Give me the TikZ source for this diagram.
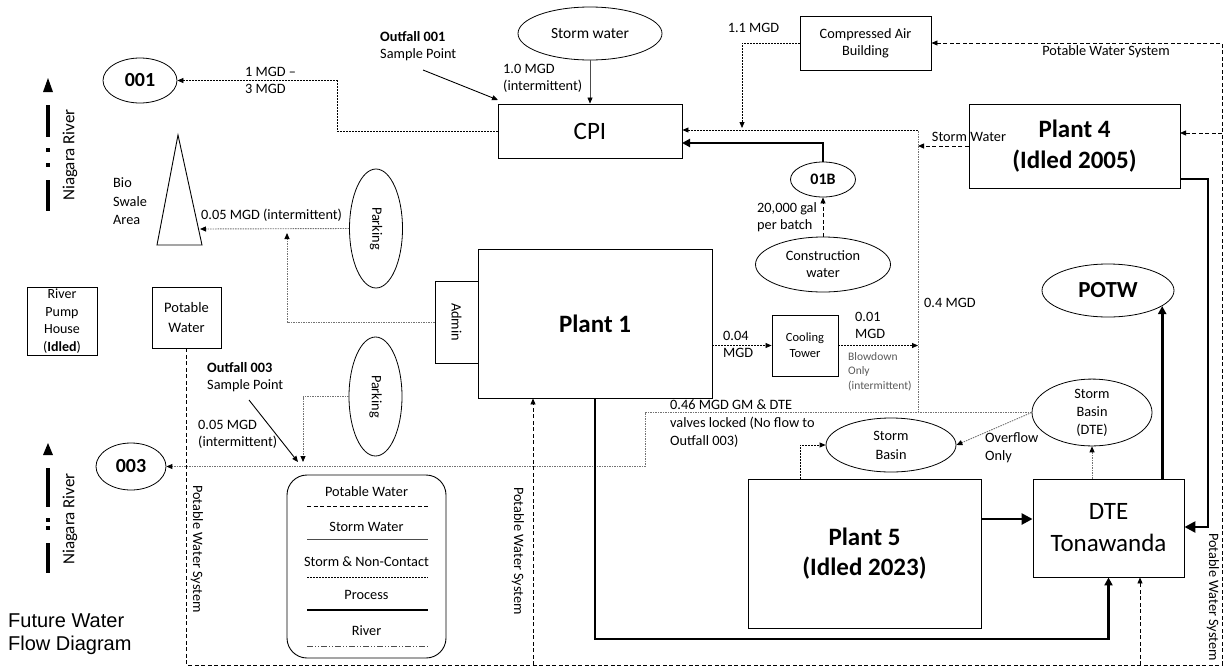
\documentclass[tikz,border=0pt]{standalone}
\usepackage{fontspec}
\setmainfont{Carlito}
\newfontfamily\arialf{Liberation Sans}
\usetikzlibrary{arrows.meta,shapes.geometric,calc}
\begin{document}
\begin{tikzpicture}[x=1pt,y=-1pt,font=\fontsize{14.3}{17}\selectfont,
 bx/.style={draw,line width=0.9pt,inner sep=0,align=center},
 el/.style={draw,ellipse,line width=0.8pt,inner sep=0,align=center},
 txt/.style={inner sep=0,align=left,anchor=west},
 ctxt/.style={inner sep=0,align=center},
 big/.style={font=\fontsize{25}{31}\selectfont},
 bigb/.style={font=\fontsize{25}{31}\selectfont\bfseries},
 snc/.style={line width=0.8pt,dash pattern=on 2pt off 1pt},
 park/.style={line width=0.9pt,black!55,dash pattern=on 1.5pt off 1pt},
 potable/.style={line width=0.8pt,dash pattern=on 4pt off 2.5pt},
 proc/.style={line width=2.6pt},
 ar/.style={-{Triangle[length=6pt,width=5pt,black]}},
 arm/.style={-{Triangle[length=8pt,width=8pt]}},
 arb/.style={-{Triangle[length=11pt,width=11pt]}},
 rv/.style={line width=4pt},
]
\useasboundingbox (0,0) rectangle (1225,667);

% ---------- nodes ----------
\node[el,minimum width=74,minimum height=45,font=\fontsize{20}{24}\selectfont\bfseries] (n001) at (140,80.5) {001};
\node[el,minimum width=144,minimum height=53,font=\fontsize{15.5}{18}\selectfont] (sw) at (590,33.5) {Storm water};
\node[bx,minimum width=184,minimum height=54,big] (cpi) at (590,131) {CPI};
\node[bx,minimum width=131,minimum height=54] (cab) at (865.5,43) {Compressed Air\\Building};
\node[bx,minimum width=211,minimum height=84,bigb] (p4) at (1074.5,146) {Plant 4\\(Idled 2005)};
\node[el,minimum width=53,minimum height=119] (pk1) at (376,228.5) {\rotatebox{-90}{Parking}};
\node[bx,minimum width=43,minimum height=82] (adm) at (456.5,322) {\rotatebox{-90}{Admin}};
\node[bx,minimum width=234,minimum height=149,bigb] (p1) at (595,323.5) {Plant 1};
\node[bx,minimum width=66,minimum height=61,font=\fontsize{12.5}{16}\selectfont] (ct) at (805,345.5) {Cooling\\Tower};
\node[el,minimum width=65,minimum height=35,font=\fontsize{16}{19}\selectfont\bfseries] (b01) at (823,179.5) {01B};
\node[el,minimum width=135,minimum height=55] (cw) at (823,264.5) {Construction\\water};
\node[el,minimum width=132,minimum height=53,font=\fontsize{23}{27}\selectfont\bfseries] (potw) at (1108,290.5) {POTW};
\node[el,minimum width=120,minimum height=59,font=\fontsize{14.3}{18}\selectfont] (sbd) at (1092,412.5) {Storm\\Basin\\(DTE)};
\node[el,minimum width=130,minimum height=54,font=\fontsize{14.3}{19}\selectfont] (sb) at (891,445) {Storm\\Basin};
\node[bx,minimum width=70,minimum height=68,font=\fontsize{14}{17.5}\selectfont] (rph) at (62,321) {River\\Pump\\House\\(\textbf{Idled})};
\node[bx,minimum width=69,minimum height=61,font=\fontsize{14.5}{20}\selectfont] (pw) at (186.5,317.5) {Potable\\Water};
\node[el,minimum width=53,minimum height=119] (pk2) at (375.5,396.5) {\rotatebox{-90}{Parking}};
\node[el,minimum width=70,minimum height=47,font=\fontsize{20}{24}\selectfont\bfseries] (n003) at (131,466.5) {003};
\node[draw,line width=0.9pt,rounded corners=20pt,minimum width=159,minimum height=183,inner sep=0] (leg) at (366.5,566.5) {};
\node[bx,minimum width=233,minimum height=149,font=\fontsize{25}{30}\selectfont\bfseries] (p5) at (864.5,553.5) {Plant 5\\(Idled 2023)};
\node[bx,minimum width=151,minimum height=98,font=\fontsize{25}{32}\selectfont] (dte) at (1108.5,528) {DTE\\Tonawanda};

% bio swale
\draw[line width=0.9pt] (178,135) -- (202,245) -- (157,245) -- cycle;
\coordinate (bioR) at (200,229);

% Niagara river symbols
\fill (48,78) -- (53,92) -- (43,92) -- cycle;
\draw[rv] (48,105) -- (48,137);
\fill (46,148) rectangle (50,152);
\fill (46,163) rectangle (50,167);
\draw[rv] (48,180) -- (48,211);
\fill (48,443) -- (53,455) -- (43,455) -- cycle;
\draw[rv] (48,468) -- (48,507);
\fill (46,518) rectangle (50,522);
\fill (46,526) rectangle (50,530);
\draw[rv] (48,543) -- (48,573);

% ---------- coordinates ----------
\coordinate (c1) at (337,131);
\coordinate (j1) at (742,128);
\coordinate (v1) at (918,412.5);
\coordinate (c2) at (918,130);
\coordinate (c3) at (682,143);
\coordinate (pwc1) at (186.5,665);
\coordinate (pwc2) at (1222,665);
\coordinate (p4in) at (1180,133);
\coordinate (pb1) at (533,665);
\coordinate (pb2) at (1140,665);
\coordinate (adj) at (287,233);
\coordinate (k3a) at (645,412.5);
\coordinate (k3b) at (645,466.5);
\coordinate (pk2j) at (303,462);
\coordinate (p5t) at (800,479);
\coordinate (pr1) at (1108.5,639);
\coordinate (p5r) at (981,519);
\coordinate (p4o) at (1180,179);
\coordinate (k4) at (1208,527);
\coordinate (o1s) at (423,70);
\coordinate (o1e) at (498,100);
\coordinate (o3s) at (249,400);
\coordinate (o3e) at (298,462);

% ---------- connectors ----------
\draw[snc,ar] (cpi.west) -- (c1) |- (n001.east);
\draw[black!70,line width=0.6pt,ar] (sw.south) -- (cpi.north);
\draw[line width=0.9pt,ar] (o1s) -- (o1e);
\draw[snc,ar] (cab.west) -| (j1);
\draw[park] (v1) -- (c2);
\draw[snc,ar] (c2) -- (c2 -| cpi.east);
\draw[potable,ar] (p4.west) -- (p4.west -| v1);
\draw[proc,arm] (b01.north) |- (c3);
\draw[potable,ar] (cw.north) -- (b01.south);
\draw[potable,ar] (pw.south) -- (pwc1) -- (pwc2) |- (cab.east);
\draw[potable,ar] (p4in -| pwc2) -- (p4in);
\draw[potable,ar] (pb1) -- (pb1 |- p1.south);
\draw[potable,ar] (pb2) -- (pb2 |- dte.south);
\draw[park,ar] (pk1.west) -- (bioR);
\draw[park,ar] (adm.west) -| (adj);
\draw[snc,ar] (p1.east |- ct.west) -- (ct.west);
\draw[snc,ar] (ct.east) -- (ct.east -| v1);
\draw[line width=0.9pt,ar] (o3s) -- (o3e);
\draw[park,ar] (pk2.west) -| (pk2j);
\draw[park,ar] (sbd.west) -- (k3a) -- (k3b) -- (n003.east);
\draw[park,ar] (sbd.west) -- (sb.east);
\draw[park,ar] (dte.north -| sbd.south) -- (sbd.south);
\draw[snc,ar] (p5t) |- (sb.west);
\draw[proc,arm] (p1.south) |- (pr1) -- (dte.south);
\draw[proc,arb] (p5r) -- (p5r -| dte.west);
\draw[proc,arb] (p4o) -| (k4) -- (k4 -| dte.east);
\draw[proc,arm] (potw.-16 |- dte.north) -- (potw.-16);

% ---------- labels ----------
\node[txt] (l1) at (245,80) {1 MGD –\\3 MGD};
\node[txt] (l2) at (503,78.5) {1.0 MGD\\(intermittent)};
\node[txt] (l3) at (380,46) {\textbf{Outfall 001}\\Sample Point};
\node[ctxt] (l4) at (753.5,28) {1.1 MGD};
\node[ctxt] (l5) at (1106,52) {Potable Water System};
\node[ctxt] (l6) at (969,137) {Storm Water};
\node[txt] (l7) at (757,217) {20,000 gal\\per batch};
\node[txt] (l8) at (924,303) {0.4 MGD};
\node[txt] (l9) at (855,325.5) {0.01\\MGD};
\node[txt,black!65,font=\fontsize{11.5}{14.5}\selectfont] (l10) at (848,371.5) {Blowdown\\Only\\(intermittent)};
\node[txt] (l11) at (723,344.5) {0.04\\MGD};
\node[txt,font=\fontsize{14.3}{18}\selectfont] (l12) at (670,423.5) {0.46 MGD GM \& DTE\\valves locked (No flow to\\Outfall 003)};
\node[txt,font=\fontsize{14.3}{18}\selectfont] (l13) at (985,448) {Overflow\\Only};
\node[txt,font=\fontsize{14.3}{18.5}\selectfont] (l14) at (113,201.5) {Bio\\Swale\\Area};
\node[txt] (l15) at (201,215) {0.05 MGD (intermittent)};
\node[txt] (l16) at (207,377) {\textbf{Outfall 003}\\Sample Point};
\node[txt] (l17) at (198,434.5) {0.05 MGD\\(intermittent)};
\node[ctxt,rotate=90,font=\fontsize{17}{20}\selectfont] (nr1) at (70,155) {Niagara River};
\node[ctxt,rotate=90,font=\fontsize{17}{20}\selectfont] (nr2) at (70,519) {Niagara River};
\node[ctxt,rotate=-90] (pws1) at (197,549) {Potable Water System};
\node[ctxt,rotate=-90] (pws2) at (518,551) {Potable Water System};
\node[ctxt,rotate=-90] (pws3) at (1213,597) {Potable Water System};
\node[txt,font=\arialf\fontsize{20}{23}\selectfont] (title) at (8,634.5) {Future Water\\Flow Diagram};

% ---------- legend ----------
\node[ctxt] (lg1) at (366.5,492) {Potable Water};
\draw[potable] (307,506) -- (428,506);
\node[ctxt] (lg2) at (366.5,527) {Storm Water};
\draw[black!70,line width=0.6pt] (307,539) -- (428,539);
\node[ctxt] (lg3) at (366.5,562) {Storm \& Non-Contact};
\draw[snc] (307,577) -- (428,577);
\node[ctxt] (lg4) at (366.5,595) {Process};
\draw[proc] (307,610) -- (428,610);
\node[ctxt] (lg5) at (366.5,631) {River};
\draw[black!70,line width=0.8pt,dash pattern=on 6pt off 2pt on 1pt off 2pt on 1pt off 2pt] (307,646) -- (428,646);
\end{tikzpicture}
\end{document}
